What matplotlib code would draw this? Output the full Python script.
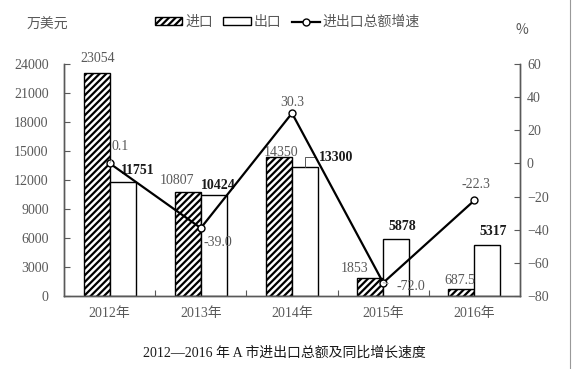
import matplotlib.pyplot as plt
import numpy as np

plt.rcParams['font.family'] = ['Liberation Serif', 'Noto Sans CJK SC']
plt.rcParams['hatch.linewidth'] = 1.6

years = ['2012年', '2013年', '2014年', '2015年', '2016年']
imports = [23054, 10807, 14350, 1853, 687.5]
exports = [11751, 10424, 13300, 5878, 5317]
growth = [0.1, -39.0, 30.3, -72.0, -22.3]

import_labels = ['23054', '10807', '14350', '1853', '687.5']
export_labels = ['11751', '10424', '13300', '5878', '5317']
growth_labels = ['0.1', '-39.0', '30.3', '-72.0', '-22.3']

# label offsets in pixels (dx, dy)
imp_off = [(1, 15), (-11, 11), (2, 5), (-16, 10), (-2, 9)]
exp_off = [(15, 12), (5, 10), (31, 10), (6, 13), (6, 13)]
gr_off = [(11, 17), (17, -14), (0, 11), (28, -4), (2, 16)]

gray = '#595959'
x = np.arange(len(years))
w = 0.285

fig = plt.figure(figsize=(5.73, 3.69), dpi=100)
ax = fig.add_axes([0.1117, 0.1978, 0.7958, 0.6288])
ax2 = ax.twinx()

b1 = ax.bar(x - w / 2, imports, w, facecolor='white', edgecolor='black',
            hatch='/////', linewidth=1, label='进口')
b2 = ax.bar(x + w / 2, exports, w, facecolor='white', edgecolor='black',
            linewidth=1, label='出口')
ln, = ax2.plot(x, growth, color='black', lw=1.6, marker='o', ms=5,
               mfc='white', mec='black', mew=1, label='进出口总额增速')

ax.set_xlim(-0.5, 4.5)
ax.set_ylim(0, 24000)
ax.set_yticks(range(0, 24001, 3000))
ax2.set_ylim(-80, 60)
ax2.set_yticks(range(-80, 61, 20))
ax.set_xticks(x)
ax.set_xticklabels(years)
ax.set_xticks(x[:-1] + 0.5, minor=True)
ax.tick_params(axis='x', which='major', length=0, pad=8, labelsize=10, labelcolor=gray)
ax.tick_params(axis='x', which='minor', direction='in', length=4, width=0.8, color=gray)
ax.tick_params(axis='y', direction='in', length=4, width=0.8, color=gray, pad=11,
               labelsize=10, labelcolor=gray)
ax2.tick_params(axis='y', direction='in', length=4, width=0.8, color=gray, pad=5,
                labelsize=10, labelcolor=gray)

for a in (ax, ax2):
    a.spines['top'].set_visible(False)
    for s in ('left', 'right', 'bottom'):
        a.spines[s].set_color(gray)
        a.spines[s].set_linewidth(1)

for i in range(len(years)):
    ax.annotate(import_labels[i], (x[i] - w / 2, imports[i]), xytext=imp_off[i],
                textcoords='offset pixels', ha='center', va='center',
                fontsize=10, color=gray, annotation_clip=False)
    lead = None
    if i == 2:
        lead = dict(arrowstyle='-', color=gray, lw=0.7, shrinkA=1, shrinkB=0,
                    connectionstyle='angle,angleA=0,angleB=90,rad=0')
    ax.annotate(export_labels[i], (x[i] + w / 2, exports[i]), xytext=exp_off[i],
                textcoords='offset pixels', ha='center', va='center',
                fontsize=10, fontweight='bold', color='#1a1a1a', arrowprops=lead)
    lead = dict(arrowstyle='-', color='#aaaaaa', lw=0.7, shrinkA=4, shrinkB=6) if i in (0, 3) else None
    ax2.annotate(growth_labels[i], (x[i], growth[i]), xytext=gr_off[i],
                 textcoords='offset pixels', ha='center', va='center',
                 fontsize=10, color=gray, arrowprops=lead)

leg = fig.legend([b1, b2, ln], ['进口', '出口', '进出口总额增速'], loc='center',
                 bbox_to_anchor=(0.501, 0.940), ncol=3, frameon=False,
                 handlelength=2.0, handleheight=0.45, columnspacing=0.75,
                 handletextpad=0.2, prop={'family': 'Noto Sans CJK SC', 'size': 10})
for t in leg.get_texts():
    t.set_color(gray)

fig.text(0.082, 0.932, '万美元', ha='center', va='center', fontsize=10,
         color=gray, family='Noto Sans CJK SC')
fig.text(0.911, 0.919, '%', ha='center', va='center', fontsize=10, color=gray,
         family='Noto Sans CJK SC')
fig.text(0.497, 0.043, '2012—2016 年 A 市进出口总额及同比增长速度', ha='center',
         va='center', fontsize=10, color='#1a1a1a')
fig.add_artist(plt.Line2D([0.9948, 0.9948], [0, 1], color='#999999', lw=0.8,
                          transform=fig.transFigure))

fig.savefig('out.png', dpi=100)
